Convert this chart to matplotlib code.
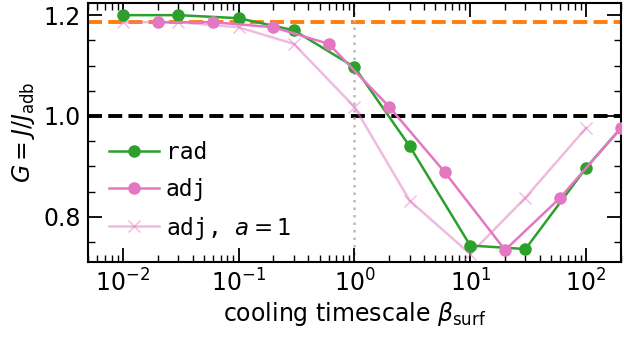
import matplotlib
matplotlib.use("Agg")
import matplotlib.pyplot as plt
from matplotlib.ticker import MultipleLocator

# radiative runs
beta_rad = [0.01, 0.03, 0.1, 0.3, 1, 3, 10, 30, 100, 300]
G_rad = [1.200, 1.200, 1.194, 1.170, 1.097, 0.940, 0.743, 0.736, 0.897, 1.022]

# adjusted runs
beta_adj = [0.02, 0.06, 0.2, 0.6, 2, 6, 20, 60, 200]
G_adj = [1.186, 1.186, 1.176, 1.143, 1.018, 0.889, 0.734, 0.838, 0.976]

# adjusted, a = 1
beta_a1 = [0.01, 0.03, 0.1, 0.3, 1, 3, 10, 30, 100]
G_a1 = [1.186, 1.186, 1.176, 1.143, 1.018, 0.832, 0.726, 0.838, 0.976]

G_ref = 1.187

fig, ax = plt.subplots(figsize=(6.24, 3.4), dpi=100)

ax.axhline(G_ref, color="#ff7f0e", ls=(0, (3.6, 1.6)), lw=2.8, zorder=1)
ax.axhline(1.0, color="black", ls=(0, (3.6, 1.6)), lw=2.8, zorder=1)
ax.axvline(1.0, color="#bbbbbb", ls=(0, (1, 2)), lw=1.8, zorder=1)

ax.plot(beta_rad, G_rad, "-o", color="#2ca02c", lw=1.8, ms=8, label="rad", zorder=3)
ax.plot(beta_adj, G_adj, "-o", color="#e377c2", lw=1.8, ms=8, label="adj", zorder=3)
ax.plot(beta_a1, G_a1, "-x", color="#e377c2", alpha=0.5, lw=1.8, ms=8,
        label="adj, $a=1$", zorder=2)

ax.set_xscale("log")
ax.set_xlim(0.005, 200)
ax.set_ylim(0.71, 1.224)
ax.yaxis.set_major_locator(MultipleLocator(0.2))
ax.yaxis.set_minor_locator(MultipleLocator(0.05))

ax.tick_params(which="both", direction="in", top=True, right=True, labelsize=17)
ax.tick_params(which="major", length=10, width=1.3, pad=5)
ax.tick_params(which="minor", length=5, width=1.0)
for s in ax.spines.values():
    s.set_linewidth(1.5)

ax.set_xlabel(r"cooling timescale $\beta_{\rm surf}$", fontsize=17, labelpad=3)
ax.set_ylabel(r"$G = J/J_{\rm adb}$", fontsize=17, labelpad=5)

leg = ax.legend(loc="lower left", bbox_to_anchor=(0.0, 0.0), frameon=False,
                prop={"family": "DejaVu Sans Mono", "size": 16.5},
                handlelength=2.2, handletextpad=0.3, labelspacing=0.6)

fig.subplots_adjust(left=0.141, right=0.995, top=0.991, bottom=0.229)
fig.savefig("out.png", dpi=100)
